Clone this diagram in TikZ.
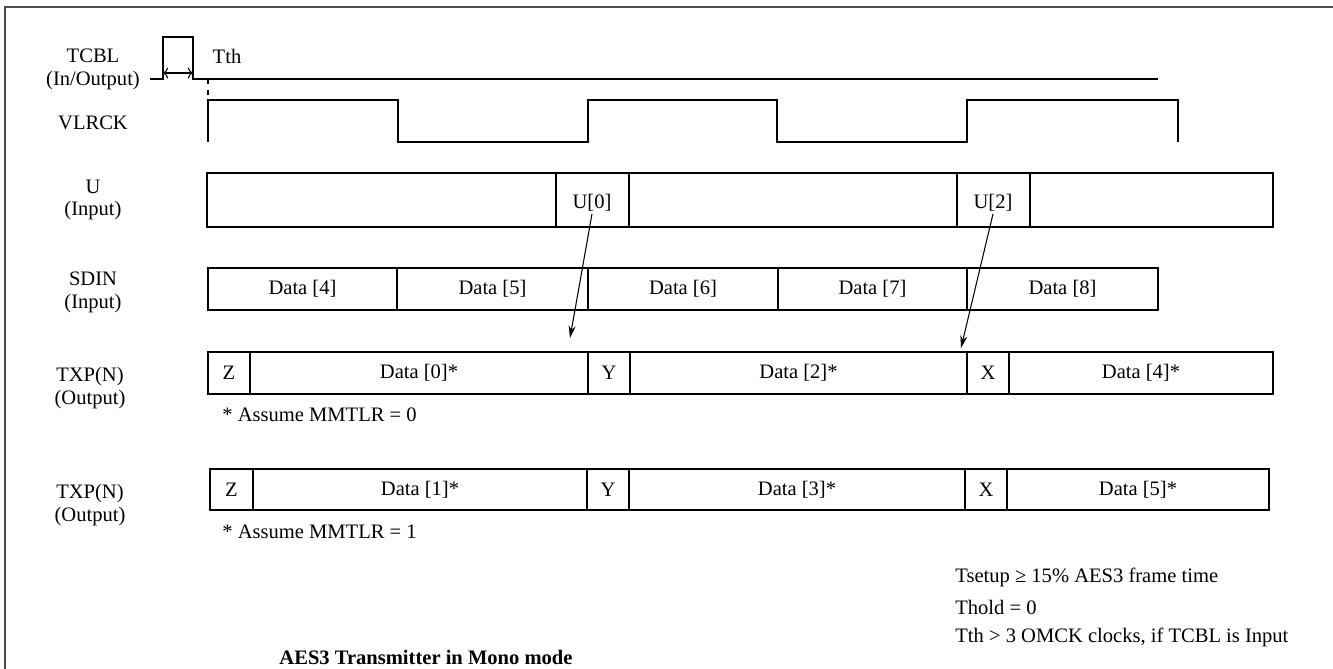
\documentclass[tikz,border=0pt]{standalone}
\usepackage{fontspec}
\setmainfont{Liberation Serif}
\usetikzlibrary{arrows.meta,fit}

\tikzset{
  lbl/.style={align=center, font=\fontsize{11.7}{13}\selectfont},
  txt/.style={font=\fontsize{11.7}{13}\selectfont, inner sep=1pt},
  seg/.style={draw, inner sep=0pt},
  every label/.style={font=\fontsize{11.7}{13}\selectfont, inner sep=1pt},
  wave/.style={line width=0.7pt},
  uarrow/.style={-{Stealth[length=7pt,width=4pt]}, line width=0.6pt}
}

\begin{document}
\begin{tikzpicture}[x=0.02cm, y=-0.02cm, line width=0.7pt]
        \useasboundingbox (0,0) rectangle (1333,669);
        \draw[black!70, line width=1.2pt] (5,669) -- (5,7) -- (1333,7);

        % signal names
        \node[lbl] (tcbl) at (93,69) {TCBL\\(In/Output)};
        \node[lbl] (vlrck) at (93,123) {VLRCK};
        \node[lbl] (u) at (93,200) {U\\(Input)};
        \node[lbl] (sdin) at (93,292) {SDIN\\(Input)};
        \node[lbl] (txpa) at (90,388) {TXP(N)\\(Output)};
        \node[lbl] (txpb) at (90,505) {TXP(N)\\(Output)};

        % TCBL and VLRCK
        \draw[wave] (150,79) -- (163,79) -- (163,37) -- (193,37) -- (193,79) -- (1158,79);
        \draw[<->, line width=0.6pt] (163,73) -- (193,73);
        \node[txt] (tth) at (227,56) {Tth};
        \draw[dashed, line width=0.6pt] (208,79) -- (208,100);
        \draw[wave] (208,142) -- (208,100) -- (398,100) -- (398,142) -- (588,142) -- (588,100)
          -- (777,100) -- (777,142) -- (967,142) -- (967,100) -- (1178,100) -- (1178,142);

        % U
        \node[seg, fit={(207,173)(556,227)}] (ua) {};
        \node[seg, fit={(556,173)(629,227)}] (ub) {};
        \node[seg, fit={(629,173)(957,227)}] (uc) {};
        \node[seg, fit={(957,173)(1030,227)}] (ud) {};
        \node[seg, fit={(1030,173)(1273,227)}] (ue) {};
        \node[txt] (u0) at (592,203) {U[0]};
        \node[txt] (u2) at (993,203) {U[2]};

        % SDIN
        \foreach \xa/\xb/\n in {208/397/4, 397/588/5, 588/778/6, 778/967/7, 967/1158/8}
          \node[seg, fit={(\xa,268)(\xb,310)}, label={center:{Data [\n]}}] (sd\n) {};

        % TXP, MMTLR = 0
        \node[seg, fit={(208,352)(250,394)}, label=center:Z] (za) {};
        \node[seg, fit={(250,352)(588,394)}, label={center:{Data [0]*}}] (da0) {};
        \node[seg, fit={(588,352)(630,394)}, label=center:Y] (ya) {};
        \node[seg, fit={(630,352)(967,394)}, label={center:{Data [2]*}}] (da2) {};
        \node[seg, fit={(967,352)(1009,394)}, label=center:X] (xa) {};
        \node[seg, fit={(1009,352)(1273,394)}, label={center:{Data [4]*}}] (da4) {};
        \node[txt, anchor=west] (notea) at (220,415) {* Assume MMTLR = 0};

        % TXP, MMTLR = 1
        \node[seg, fit={(210,469)(253,510)}, label=center:Z] (zb) {};
        \node[seg, fit={(253,469)(587,510)}, label={center:{Data [1]*}}] (db1) {};
        \node[seg, fit={(587,469)(629,510)}, label=center:Y] (yb) {};
        \node[seg, fit={(629,469)(965,510)}, label={center:{Data [3]*}}] (db3) {};
        \node[seg, fit={(965,469)(1007,510)}, label=center:X] (xb) {};
        \node[seg, fit={(1007,469)(1269,510)}, label={center:{Data [5]*}}] (db5) {};
        \node[txt, anchor=west] (noteb) at (220,532) {* Assume MMTLR = 1};

        % U bits into the frames
        \coordinate (ta) at (570,338);
        \coordinate (tb) at (961,348);
        \draw[uarrow] (u0.south) -- (ta);
        \draw[uarrow] (u2.south) -- (tb);

        % timing notes
        \node[txt, anchor=west] (tsetup) at (953,577) {Tsetup ≥ 15\% AES3 frame time};
        \node[txt, anchor=west] (thold) at (953,607) {Thold = 0};
        \node[txt, anchor=west] (tthnote) at (953,637) {Tth > 3 OMCK clocks, if TCBL is Input};
        \node[txt, font=\fontsize{11.7}{13}\selectfont\bfseries] (title) at (426,657) {AES3 Transmitter in Mono mode};
    \end{tikzpicture}
\end{document}
